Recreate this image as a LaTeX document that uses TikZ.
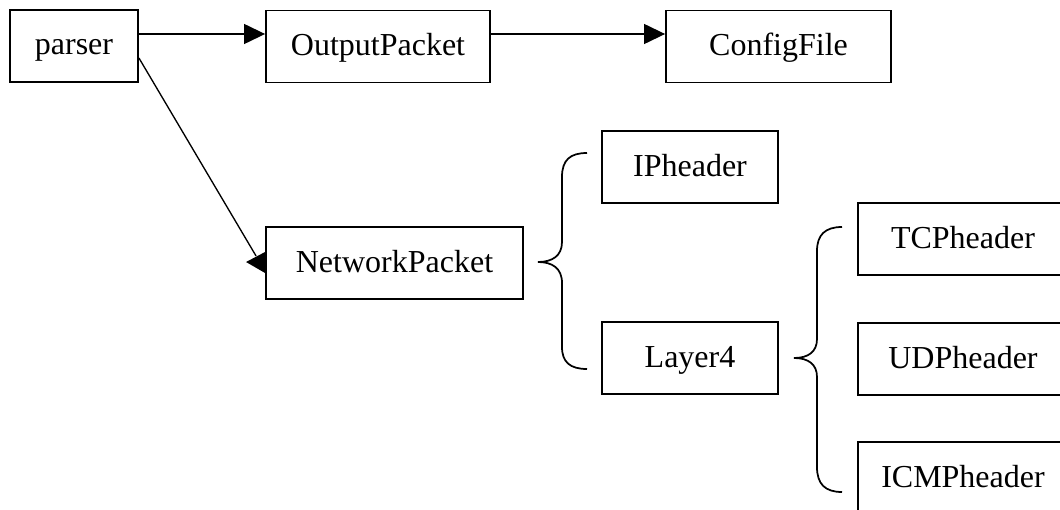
\documentclass[tikz,border=0pt]{standalone}
\usepackage{fontspec}
\setmainfont{Liberation Serif}
\usetikzlibrary{arrows.meta,calc}
\begin{document}
\begin{tikzpicture}[x=0.75pt,y=-0.75pt,
  box/.style={draw,line width=1.4pt,rectangle,inner sep=0pt,minimum height=54pt,
    text height=18pt,text depth=4.5pt,font=\fontsize{24}{28}\selectfont},
  conn/.style={line width=1pt},
  arr/.style={conn,-{Triangle[length=15.75pt,width=15pt]}},
  bracepath/.style={line width=1.3pt}]
\useasboundingbox (0,0) rectangle (1060,510);
\clip (0,0) rectangle (1060,510);
% boxes
\node[box,minimum width=96pt] (parser) at (74,46) {parser};
\node[box,minimum width=168pt] (OutputPacket) at (378,46.5) {OutputPacket};
\node[box,minimum width=168.75pt] (ConfigFile) at (778.5,46.5) {ConfigFile};
\node[box,minimum width=192.75pt] (NetworkPacket) at (394.5,263) {NetworkPacket};
\node[box,minimum width=132pt] (IPheader) at (690,167) {IPheader};
\node[box,minimum width=132pt] (Layer4) at (690,358) {Layer4};
\node[box,minimum width=157.5pt] (TCPheader) at (963,239) {TCPheader};
\node[box,minimum width=157.5pt] (UDPheader) at (963,359) {UDPheader};
\node[box,minimum width=157.5pt] (ICMPheader) at (963,478) {ICMPheader};
% connectors
\draw[arr] ($(parser.east)+(0,-12)$) -- ($(OutputPacket.west)+(0,-12.5)$);
\draw[arr] ($(OutputPacket.east)+(0,-12.5)$) -- ($(ConfigFile.west)+(0,-12.5)$);
\coordinate (npin) at ($(NetworkPacket.west)+(-9,-7)$);
\draw[conn] ($(parser.east)+(0,12)$) -- (npin);
\fill ($(NetworkPacket.west)+(-19,-1)$) -- ($(NetworkPacket.west)+(0,-11)$) -- ($(NetworkPacket.west)+(0,10)$) -- cycle;
% braces
\draw[bracepath] (587,153) .. controls (570,153) and (562,160) .. (562,177)
  -- (562,242) .. controls (562,256) and (552,262) .. (538,262)
  .. controls (552,262) and (562,268) .. (562,283)
  -- (562,347) .. controls (562,362) and (570,369) .. (587,369);
\draw[bracepath] (842,227) .. controls (825,227) and (817,235) .. (817,251)
  -- (817,339) .. controls (817,352) and (808,358) .. (794,358)
  .. controls (808,358) and (817,364) .. (817,377)
  -- (817,467) .. controls (817,484) and (825,492) .. (842,492);
\end{tikzpicture}
\end{document}
